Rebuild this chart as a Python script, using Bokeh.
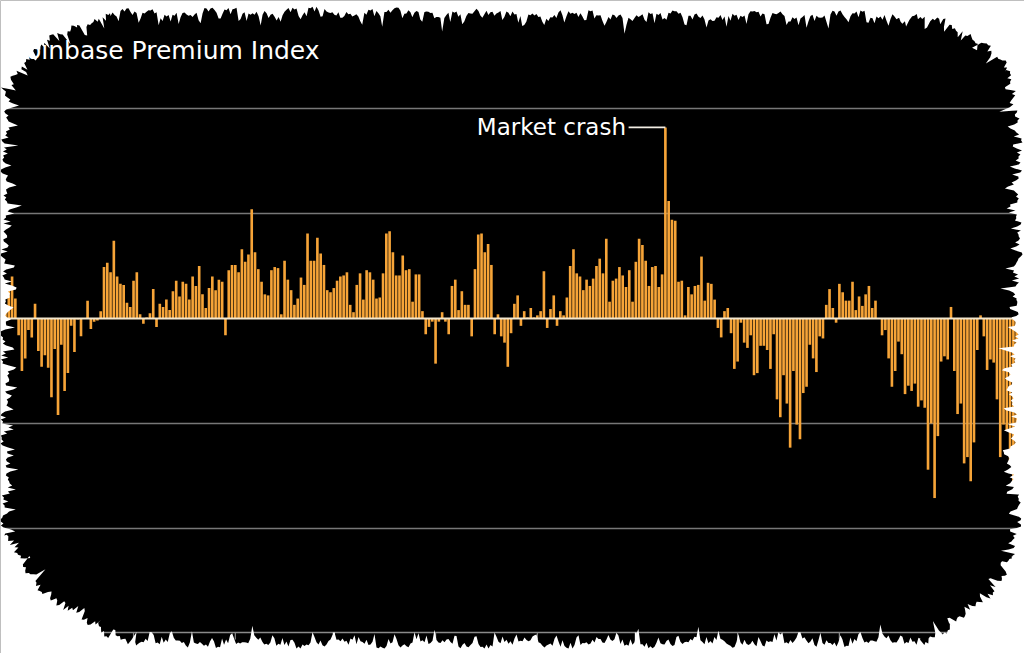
import numpy as np
from bokeh.plotting import figure
from bokeh.models import Range1d
from bokeh.core.properties import value
from bokeh.embed import file_html
from bokeh.resources import INLINE

# ---------------- data ----------------
title = "Coinbase Premium Index"
note = "Market crash"

premium = [
    0.08, 0.29, 0.40, 0.19, -0.16, -0.50, -0.38, -0.11, -0.18, 0.14,
    -0.31, -0.46, -0.35, -0.47, -0.75, -0.29, -0.92, -0.25, -0.69, -0.52,
    -0.07, -0.32, -0.01, -0.17, 0.00, 0.17, -0.10, -0.03, -0.02, 0.07,
    0.49, 0.53, 0.44, 0.74, 0.40, 0.33, 0.32, 0.15, 0.11, 0.36,
    0.44, 0.04, -0.05, 0.01, 0.05, 0.28, -0.08, 0.14, 0.11, 0.18,
    0.08, 0.26, 0.36, 0.21, 0.35, 0.33, 0.18, 0.40, 0.31, 0.50,
    0.23, 0.10, 0.29, 0.40, 0.27, 0.37, 0.35, -0.16, 0.46, 0.51,
    0.51, 0.44, 0.66, 0.54, 0.61, 1.04, 0.63,
    0.47, 0.35, 0.23, 0.22, 0.46, 0.49, 0.48, 0.04, 0.55, 0.37,
    0.27, 0.13, 0.19, 0.39, 0.32, 0.81, 0.55, 0.55, 0.77, 0.62,
    0.51, 0.27, 0.25, 0.29, 0.36, 0.40, 0.41, 0.44, 0.13, 0.06,
    0.32, 0.43, 0.18, 0.46, 0.44, 0.37, 0.19, 0.20, 0.43, 0.81,
    0.83, 0.63, 0.41, 0.41, 0.60, 0.46, 0.47, 0.16, 0.42, 0.42,
    0.07, -0.15, -0.08, -0.03, -0.43, -0.03, 0.06, -0.03, -0.15, 0.31,
    0.37, 0.08, 0.26, 0.13, 0.13, -0.17, 0.47, 0.80, 0.81, 0.63,
    0.71, 0.51, -0.15, 0.04, -0.17, -0.23, -0.46, -0.14,
    0.14, 0.22, -0.07, 0.07, 0.01, 0.10, 0.01, 0.03, 0.07, 0.45,
    -0.09, 0.09, 0.22, -0.07, 0.07, 0.03, 0.20, 0.50, 0.66, 0.43,
    0.40, 0.27, 0.37, 0.31, 0.38, 0.50, 0.57, 0.43, 0.76, 0.16,
    0.36, 0.38, 0.49, 0.41, 0.30, 0.46, 0.16, 0.54, 0.76, 0.70,
    0.55, 0.31, 0.49, 0.50, 0.30, 0.42, 1.82, 1.12, 0.94, 0.93,
    0.35, 0.36, 0.03, 0.30, 0.23, 0.31, 0.32, 0.59, 0.17, 0.34,
    0.33, 0.18, -0.09, -0.18, 0.07, 0.10, -0.14, -0.48, -0.41, -0.04,
    -0.23, -0.28, -0.16, -0.54, -0.52, -0.26, -0.26, -0.30,
    -0.48, -0.15, -0.77, -0.94, -0.54, -0.81, -1.23, -0.50, -1.01, -1.15,
    -0.71, -0.65, -0.25, -0.38, -0.51, -0.17, -0.19, 0.13, 0.28, 0.10,
    -0.04, 0.33, 0.25, 0.17, 0.17, 0.35, 0.08, 0.21, 0.12, 0.23,
    0.31, 0.10, 0.17, 0.00, -0.16, -0.11, -0.38, -0.65, -0.50, -0.22,
    -0.34, -0.72, -0.64, -0.69, -0.62, -0.84, -0.78, -0.85, -1.44, -1.00,
    -1.71, -1.12, -0.41, -0.36, -0.39, 0.11, -0.50, -0.91, -0.81, -1.38,
    -1.32, -1.55, -1.18, -0.30, 0.03, -0.17, -0.49, -0.39, -0.42, -0.77,
    -1.32, -1.01, -1.07, -1.38, -1.59, -1.21,
]
day = list(range(len(premium)))

grid_levels = [-2, -1, 1, 2]
month_ticks = [39, 70, 100, 131, 162, 192, 223, 254]
quarter_ticks = [100, 192]

# ---------------- layout constants ----------------
W, H = 1024, 653
X0, DX = 5.0, 3.283        # pixel of first bar, pixels per bar
ZERO, UNIT = 318.0, 105.0  # pixel of zero line, pixels per grid step
AXIS_Y = 632               # pixel row of the bottom axis line

p = figure(width=W, height=H,
           x_range=Range1d(-X0 / DX, (W - X0) / DX),
           y_range=Range1d(-(H - ZERO) / UNIT, ZERO / UNIT),
           x_axis_type=None, y_axis_type=None,
           toolbar_location=None, output_backend="svg", min_border=0)
p.extra_x_ranges = {"px": Range1d(0, W)}
p.extra_y_ranges = {"py": Range1d(H, 0)}
p.background_fill_color = "black"
p.border_fill_color = "white"
p.outline_line_color = None

xr = p.x_range

# gridlines
p.segment(x0=[xr.start] * len(grid_levels), x1=[xr.end] * len(grid_levels),
          y0=grid_levels, y1=grid_levels, line_color="#777777", line_width=1.6)

# bars
p.vbar(x=day, top=premium, bottom=0, width=0.8,
       fill_color="#F6A438", line_color=None)

# zero line
p.segment(x0=[xr.start], x1=[xr.end], y0=[0], y1=[0],
          line_color="#F3E6CC", line_width=2.2)

# bottom axis line + month / quarter ticks
p.segment(x0=[0], x1=[W], y0=[AXIS_Y], y1=[AXIS_Y],
          x_range_name="px", y_range_name="py", line_color="#8a8a8a", line_width=1.5)
p.segment(x0=month_ticks, x1=month_ticks,
          y0=[AXIS_Y] * len(month_ticks), y1=[AXIS_Y + 7] * len(month_ticks),
          y_range_name="py", line_color="#8a8a8a", line_width=1.2)
p.segment(x0=quarter_ticks, x1=quarter_ticks,
          y0=[AXIS_Y] * len(quarter_ticks), y1=[AXIS_Y + 14] * len(quarter_ticks),
          y_range_name="py", line_color="white", line_width=2)

# annotation
spike = int(np.argmax(premium))
top = premium[spike]
p.line(x=[spike - 11.2, spike], y=[top, top], line_color="#F2EDE4", line_width=1.6)
p.text(x=[spike - 12.0], y=[top], text=[note], text_align="right",
       text_baseline="middle", text_color="white",
       text_font=value("DejaVu Sans"), text_font_size="23px")

# title
p.text(x=[8], y=[50], text=[title], x_range_name="px", y_range_name="py",
       text_color="white", text_baseline="alphabetic",
       text_font=value("DejaVu Sans"), text_font_size="25px")

# ---------------- torn-paper white frame ----------------
anchors = [(0, 85), (15, 62), (40, 40), (75, 20), (110, 8), (330, 6), (600, 10),
           (900, 10), (945, 18), (985, 36), (1012, 68), (1022, 110), (1022, 300),
           (1018, 330), (1016, 460), (1022, 520), (1018, 560), (990, 598),
           (955, 632), (920, 646), (600, 648), (300, 648), (135, 647), (92, 632),
           (48, 602), (15, 565), (0, 535), (0, 85)]


def rag(s, k):
    v = (3 + 2.5 * np.sin(0.07 * s) + 2.0 * np.sin(0.23 * s + 1.0)
         + 10 * max(0.0, np.sin(0.31 * s + 0.3)) ** 6
         + 6 * max(0.0, np.sin(0.83 * s + 0.7)) ** 6
         + 3 * max(0.0, np.sin(2.71 * s + 0.2)) ** 8 + 1.5 * (k % 2))
    return max(v, 0.0)


inner_x, inner_y = [], []
s_tot, k = 0.0, 0
for (xa, ya), (xb, yb) in zip(anchors[:-1], anchors[1:]):
    dx, dy = xb - xa, yb - ya
    L = float(np.hypot(dx, dy))
    nx, ny = -dy / L, dx / L
    nseg = max(1, int(L / 2))
    for j in range(nseg):
        t = j / nseg
        s = s_tot + t * L
        o = rag(s, k)
        inner_x.append(float(xa + t * dx + nx * o))
        inner_y.append(float(ya + t * dy + ny * o))
        k += 1
    s_tot += L

outer_x = [-20.0, W + 20.0, W + 20.0, -20.0]
outer_y = [-20.0, -20.0, H + 20.0, H + 20.0]
p.multi_polygons(xs=[[[outer_x, inner_x]]], ys=[[[outer_y, inner_y]]],
                 x_range_name="px", y_range_name="py",
                 fill_color="white", line_color=None)

open("out.html", "w").write(file_html(p, INLINE))
